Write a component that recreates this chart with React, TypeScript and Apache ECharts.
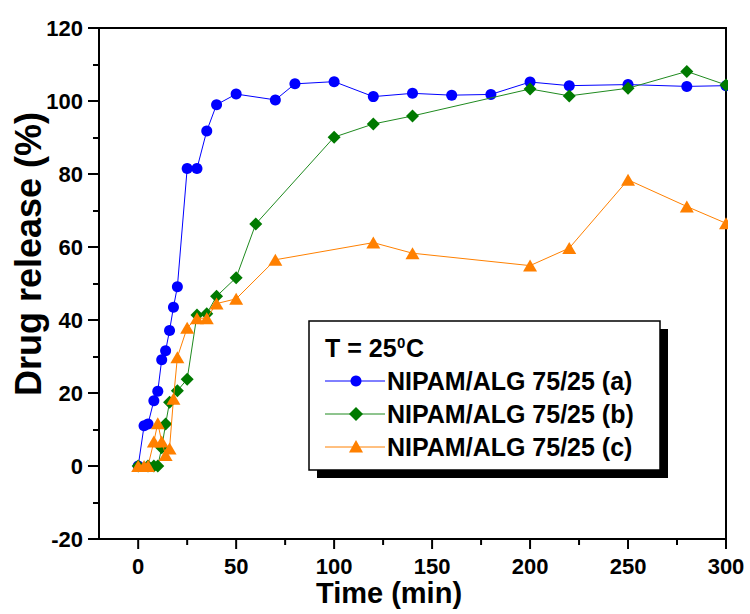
import React, { useEffect, useRef } from "react";
import * as echarts from "echarts";

// ---- Data ----
const timeA = [0, 3, 5, 8, 10, 12, 14, 16, 18, 20, 25, 30, 35, 40, 50, 70, 80, 100, 120, 140, 160, 180, 200, 220, 250, 280, 300];
const releaseA = [0, 11.0, 11.5, 17.9, 20.5, 29.1, 31.6, 37.1, 43.5, 49.1, 81.5, 81.5, 91.8, 99.0, 101.9, 100.3, 104.7, 105.3, 101.2, 102.1, 101.6, 101.8, 105.2, 104.2, 104.5, 104.0, 104.2];

const timeB = [0, 5, 8, 10, 12, 14, 16, 20, 25, 30, 35, 40, 50, 60, 100, 120, 140, 200, 220, 250, 280, 300];
const releaseB = [0, 0, 0, 0, 5, 11.5, 17.5, 20.6, 23.8, 41.4, 41.7, 46.5, 51.6, 66.3, 90.1, 93.7, 95.9, 103.3, 101.4, 103.5, 108.1, 104.4];

const timeC = [0, 3, 5, 8, 10, 12, 14, 16, 18, 20, 25, 30, 35, 40, 50, 70, 120, 140, 200, 220, 250, 280, 300];
const releaseC = [0, 0, 0, 6.7, 11.7, 6.7, 3.0, 4.8, 18.4, 29.8, 37.9, 40.5, 40.5, 44.5, 45.8, 56.5, 61.2, 58.3, 54.9, 59.7, 78.4, 71.1, 66.5];

const seriesNames = ["NIPAM/ALG 75/25 (a)", "NIPAM/ALG 75/25 (b)", "NIPAM/ALG 75/25 (c)"];
const xMajorValues = [0, 50, 100, 150, 200, 250, 300];
const xMinorValues = [25, 75, 125, 175, 225, 275];
const xTitle = "Time (min)";
const yTitle = "Drug release (%)";

const FONT = "Arial, 'Liberation Sans', Helvetica, sans-serif";

export default function App() {
  const ref = useRef<HTMLDivElement>(null);

  useEffect(() => {
    const chart = echarts.init(ref.current!, null, { renderer: "svg" });
    const pair = (xs: number[], ys: number[]) => xs.map((x, i) => [x, ys[i]]);

    const L = 99, R = 24, T = 28, B = 75;
    const W = 750, H = 614;
    const axisY = H - B;

    const blue = "#0000ff";
    const green = "#007a00";
    const greenLine = "#1f8a1f";
    const orange = "#ff8000";

    const black = "#000";
    const tickStyle = { color: black, width: 2 };

    const legendRows = [381, 414, 447];
    const legendLineColors = [blue, greenLine, orange];

    const markerFor = (i: number, cx: number, cy: number): any => {
      if (i === 0) return { type: "circle", z: 101, shape: { cx, cy, r: 5.5 }, style: { fill: blue } };
      if (i === 1)
        return {
          type: "polygon",
          z: 101,
          shape: { points: [[cx, cy - 7], [cx + 7, cy], [cx, cy + 7], [cx - 7, cy]] },
          style: { fill: green },
        };
      return {
        type: "polygon",
        z: 101,
        shape: { points: [[cx, cy - 7], [cx + 7, cy + 5.5], [cx - 7, cy + 5.5]] },
        style: { fill: orange },
      };
    };

    const axisLabelStyle = {
      color: black,
      fontWeight: "bold",
      fontSize: 22,
      fontFamily: FONT,
    };

    chart.setOption({
      animation: false,
      backgroundColor: "#fff",
      grid: {
        left: L,
        right: R,
        top: T,
        bottom: B,
        show: true,
        borderColor: black,
        borderWidth: 2,
        backgroundColor: "transparent",
      },
      xAxis: {
        type: "value",
        min: -20,
        max: 300,
        position: "bottom",
        axisLine: { show: true, onZero: false, lineStyle: tickStyle },
        axisTick: { show: false },
        axisLabel: { ...axisLabelStyle, margin: 16, customValues: xMajorValues },
        splitLine: { show: false },
      },
      yAxis: {
        type: "value",
        min: -20,
        max: 120,
        interval: 20,
        axisLine: { show: true, onZero: false, lineStyle: tickStyle },
        axisTick: { show: true, inside: false, length: 11, lineStyle: tickStyle },
        minorTick: { show: true, splitNumber: 2, length: 6, lineStyle: tickStyle },
        axisLabel: { ...axisLabelStyle, margin: 16 },
        splitLine: { show: false },
      },
      series: [
        {
          name: seriesNames[0],
          type: "line",
          data: pair(timeA, releaseA),
          symbol: "circle",
          symbolSize: 11,
          itemStyle: { color: blue },
          lineStyle: { color: blue, width: 1 },
          z: 2,
        },
        {
          name: seriesNames[1],
          type: "line",
          data: pair(timeB, releaseB),
          symbol: "diamond",
          symbolSize: 13,
          itemStyle: { color: green },
          lineStyle: { color: greenLine, width: 1 },
          z: 3,
        },
        {
          name: seriesNames[2],
          type: "line",
          data: pair(timeC, releaseC),
          symbol: "triangle",
          symbolSize: [14, 12],
          itemStyle: { color: orange },
          lineStyle: { color: orange, width: 1 },
          z: 4,
        },
      ],
    });

    // x-axis ticks, positioned through the axis scale
    const tickEls: any[] = [];
    const addTick = (v: number, len: number) => {
      const px = chart.convertToPixel({ xAxisIndex: 0 }, v) as number;
      tickEls.push({
        type: "line",
        z: 100,
        shape: { x1: px, y1: axisY, x2: px, y2: axisY + len },
        style: { stroke: black, lineWidth: 2 },
      });
    };
    xMajorValues.forEach((v) => addTick(v, 10));
    xMinorValues.forEach((v) => addTick(v, 6));

    const legendEls: any[] = [];
    legendRows.forEach((cy, i) => {
      legendEls.push({
        type: "line",
        z: 100,
        shape: { x1: 325, y1: cy, x2: 385, y2: cy },
        style: { stroke: legendLineColors[i], lineWidth: 1 },
      });
      legendEls.push(markerFor(i, 356, cy));
      legendEls.push({
        type: "text",
        z: 101,
        x: 387,
        y: cy,
        style: {
          text: seriesNames[i],
          x: 0,
          y: 0,
          fill: black,
          font: `bold 25px ${FONT}`,
          align: "left",
          textAlign: "left",
          verticalAlign: "middle",
          textVerticalAlign: "middle",
        },
      });
    });

    const txt = (text: string, x: number, y: number, size: number, align = "left", rotation = 0): any => ({
      type: "text",
      z: 101,
      x,
      y,
      rotation,
      style: {
        text,
        x: 0,
        y: 0,
        fill: black,
        font: `bold ${size}px ${FONT}`,
        align,
        textAlign: align,
        verticalAlign: "middle",
        textVerticalAlign: "middle",
      },
    });

    chart.setOption({
      graphic: [
        // mask right of the plot so the end markers look clipped at the frame
        {
          type: "rect",
          z: 99,
          shape: { x: W - R + 2, y: 0, width: R, height: H - B - 2 },
          style: { fill: "#fff" },
        },
        ...tickEls,
        // legend shadow + box
        {
          type: "rect",
          z: 100,
          shape: { x: 317, y: 329, width: 351, height: 149 },
          style: { fill: black },
        },
        {
          type: "rect",
          z: 100,
          shape: { x: 309, y: 321, width: 351, height: 149 },
          style: { fill: "#fff", stroke: black, lineWidth: 1.5 },
        },
        txt("T = 25", 325, 348, 25),
        txt("0", 397, 342, 15),
        txt("C", 406, 348, 25),
        ...legendEls,
        // axis titles
        txt(xTitle, 389, 593, 29, "center"),
        txt(yTitle, 28, 254, 36, "center", Math.PI / 2),
      ],
    });

    return () => chart.dispose();
  }, []);

  return <div ref={ref} style={{ position: "fixed", left: 0, top: 0, width: 750, height: 614, background: "#fff" }} />;
}
